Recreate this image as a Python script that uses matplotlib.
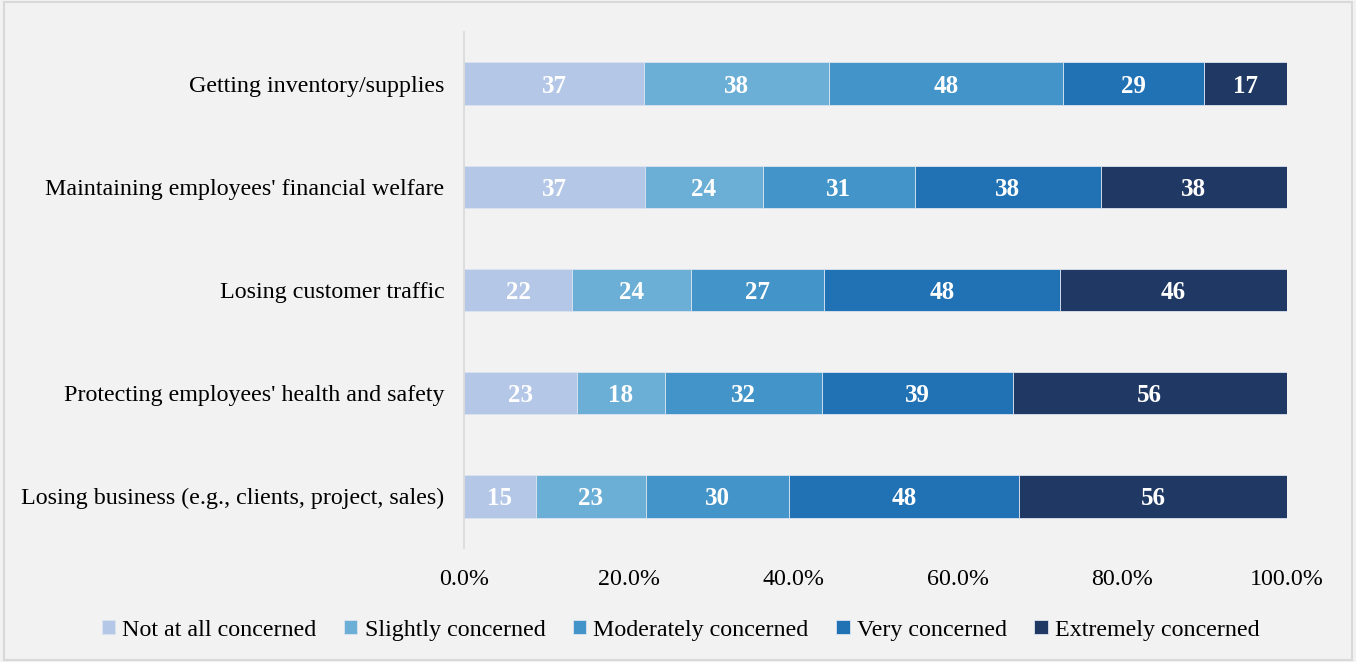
import numpy as np
import matplotlib.pyplot as plt
from matplotlib.ticker import PercentFormatter
from matplotlib.patches import Rectangle

# Survey categories (top to bottom) and counts per concern level
categories = [
    "Getting inventory/supplies",
    "Maintaining employees' financial welfare",
    "Losing customer traffic",
    "Protecting employees' health and safety",
    "Losing business (e.g., clients, project, sales)",
]
levels = ["Not at all concerned", "Slightly concerned", "Moderately concerned",
          "Very concerned", "Extremely concerned"]
not_at_all = [37, 37, 22, 23, 15]
slightly = [38, 24, 24, 18, 23]
moderately = [48, 31, 27, 32, 30]
very = [29, 38, 48, 39, 48]
extremely = [17, 38, 46, 56, 56]

COLORS = ['#b4c7e7', '#6baed6', '#4394c8', '#2171b5', '#1f3864']
BG = '#f2f2f2'
font = 'Liberation Serif'
FS = 17.3

counts = np.array([not_at_all, slightly, moderately, very, extremely], dtype=float)
shares = counts / counts.sum(axis=0)

fig = plt.figure(figsize=(13.56, 6.62), dpi=100)
fig.set_facecolor(BG)
ax = fig.add_axes([0.3422, 0.1722, 0.6069, 0.7795])
ax.set_facecolor(BG)

y = np.arange(len(categories))
left = np.zeros(len(categories))
for i, lev in enumerate(levels):
    bars = ax.barh(y, shares[i], left=left, height=0.41, color=COLORS[i],
                   edgecolor='#dce4f0', linewidth=0.6, label=lev)
    for j, b in enumerate(bars):
        ax.text(left[j] + shares[i][j] / 2, y[j] + 0.025, f"{int(counts[i][j])}",
                ha='center', va='center', color='white', fontsize=18,
                fontweight='bold', fontfamily=font)
    left += shares[i]

ax.set_ylim(len(categories) - 0.5, -0.5)
ax.set_xlim(0, 1)
ax.set_yticks(y)
ax.set_yticklabels(categories, fontsize=FS, fontfamily=font)
ax.set_xticks(np.arange(0, 1.01, 0.2))
ax.xaxis.set_major_formatter(PercentFormatter(1.0, decimals=1))
for lbl in ax.get_xticklabels():
    lbl.set_fontfamily(font)
    lbl.set_fontsize(FS)
ax.tick_params(axis='both', length=0)
ax.tick_params(axis='y', pad=14)
ax.tick_params(axis='x', pad=15)
for s in ['top', 'right', 'bottom']:
    ax.spines[s].set_visible(False)
ax.spines['left'].set_color('#d9d9d9')
ax.spines['left'].set_linewidth(1.2)

leg = fig.legend(loc='center', bbox_to_anchor=(0.502, 0.048), ncol=5, frameon=False,
                 prop={'family': font, 'size': FS}, handlelength=0.55, handleheight=0.55,
                 handletextpad=0.3, columnspacing=1.15)

# figure border
fig.patches.append(Rectangle((0.003, 0.003), 0.994, 0.994, transform=fig.transFigure,
                             fill=False, edgecolor='#d9d9d9', linewidth=1.5))

fig.savefig('out.png', dpi=100, facecolor=BG)
